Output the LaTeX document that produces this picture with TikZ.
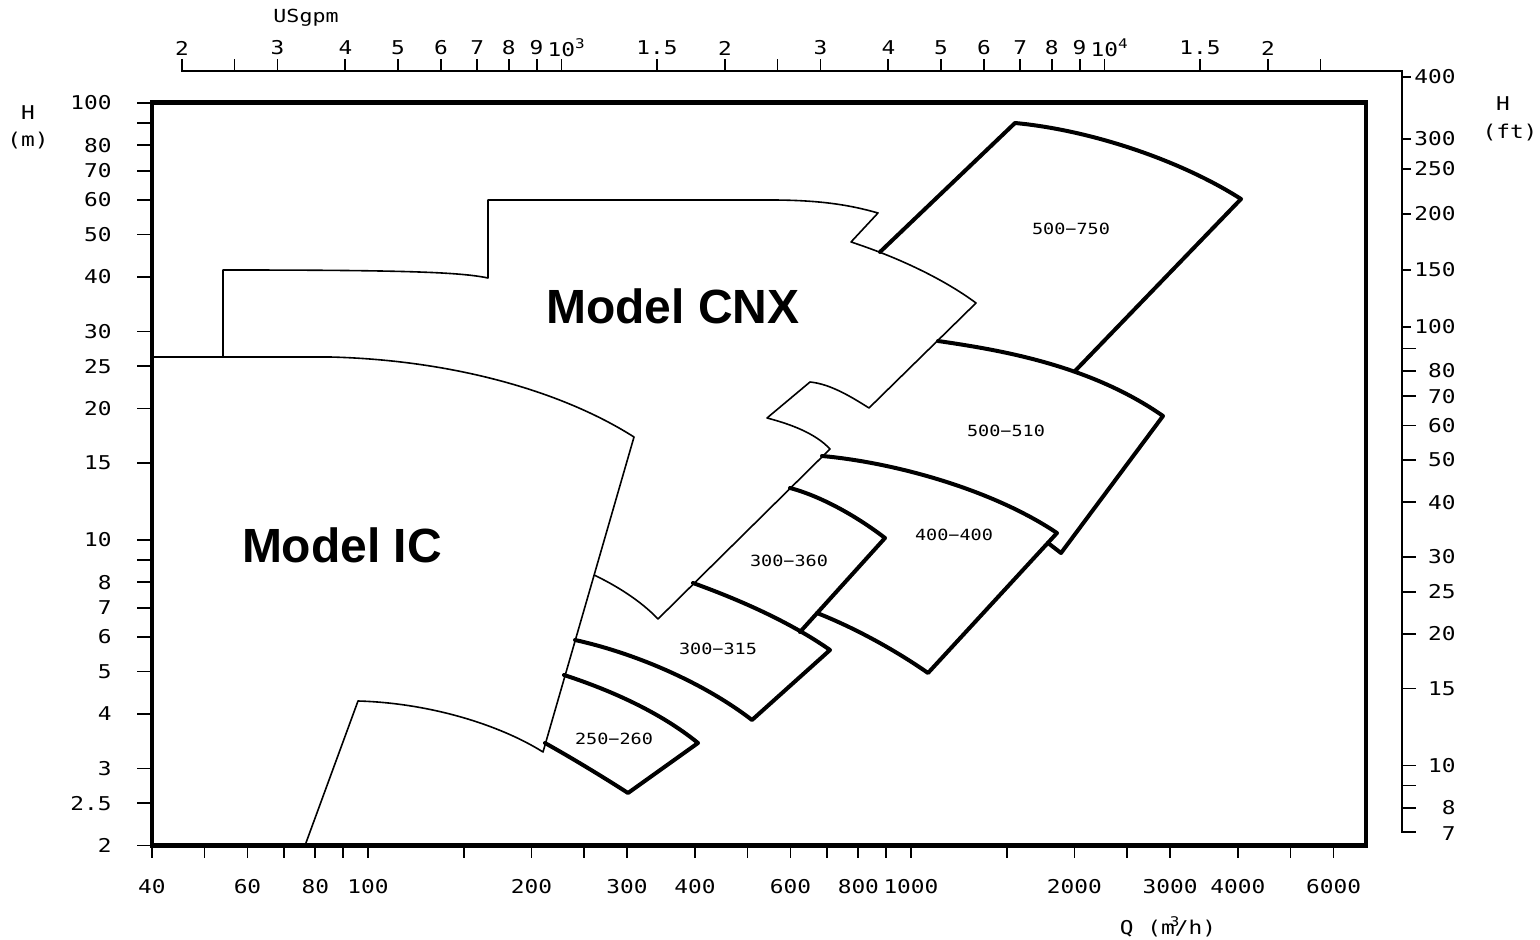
\documentclass[tikz,border=0pt]{standalone}
\usepackage{fontspec}
\setmainfont{DejaVu Sans Mono}[FakeStretch=1.2]
\newfontfamily\modelfont{Liberation Sans}

\begin{document}
\begin{tikzpicture}[x=0.5pt,y=-0.5pt,
    outline/.style={line width=0.8pt, line join=round},
    pump/.style={line width=2pt, line join=round, line cap=round},
    plotframe/.style={line width=2.2pt},
    axisline/.style={line width=0.9pt},
    ticklbl/.style={font=\fontsize{9.5}{11}\selectfont, inner sep=0pt},
    pumplbl/.style={font=\fontsize{7.7}{9}\selectfont, inner sep=0pt},
    modellbl/.style={font=\modelfont\bfseries\fontsize{24}{28}\selectfont, inner sep=0pt}]
  \useasboundingbox (0,0) rectangle (1540,940);

  % frame
  \draw[plotframe] (152,102.5) rectangle (1366,845.5);

  % Q axis (m3/h)
  \foreach \q in {40,50,60,70,80,90,100,150,200,250,300,400,500,600,700,800,900,1000,1500,2000,2500,3000,4000,5000,6000}{
    \pgfmathsetmacro{\xq}{368+543*(log10(\q)-2)}
    \draw[axisline] (\xq,845.5) -- (\xq,858);
  }
  \foreach \q [count=\i] in {40,60,80,100,200,300,400,600,800,1000,2000,3000,4000,6000}{
    \pgfmathsetmacro{\xq}{368+543*(log10(\q)-2)}
    \node[ticklbl] (qlab\i) at (\xq,887) {\q};
  }
  \node[ticklbl] (qunit) at (1168,927) {Q (m\llap{\textsuperscript{3}\kern-0.3em}/h)};

  % H axis (m)
  \foreach \h in {100,90,80,70,60,50,40,30,25,20,15,10,9,8,7,6,5,4,3,2.5,2}{
    \pgfmathsetmacro{\yh}{103+437*(2-log10(\h))}
    \draw[axisline] (137,\yh) -- (152,\yh);
  }
  \foreach \h [count=\i] in {100,80,70,60,50,40,30,25,20,15,10,8,7,6,5,4,3,2.5,2}{
    \pgfmathsetmacro{\yh}{103+437*(2-log10(\h))}
    \node[ticklbl, anchor=east] (hlab\i) at (112,\yh) {\h};
  }
  \node[ticklbl] (hm) at (28,113) {H};
  \node[ticklbl] (hmunit) at (28,141) {(m)};

  % USgpm axis and H axis (ft)
  \draw[axisline] (182,59) -- (182,71) -- (1402,71) -- (1402,832) -- (1416,832);
  \foreach \g in {2.5,3,4,5,6,7,8,9,10,15,20,25,30,40,50,60,70,80,90,100,150,200,250}{
    \pgfmathsetmacro{\xg}{368+543*(log10(\g)-0.64374)}
    \draw[axisline] (\xg,71) -- (\xg,59);
  }
  \foreach \g/\lab [count=\i] in {2/2,3/3,4/4,5/5,6/6,7/7,8/8,9/9,10/{10\rlap{\textsuperscript{3}}},
      15/1.5,20/2,30/3,40/4,50/5,60/6,70/7,80/8,90/9,100/{10\rlap{\textsuperscript{4}}},150/1.5,200/2}{
    \pgfmathsetmacro{\xg}{368+543*(log10(\g)-0.64374)}
    \node[ticklbl] (glab\i) at (\xg,48) {\lab};
  }
  \node[ticklbl, font=\fontsize{9}{11}\selectfont] (gpmunit) at (306,18) {USgpm};

  \foreach \y/\lab [count=\i] in {77/400,139/300,169/250,214/200,270/150,327/100}{
    \draw[axisline] (1402,\y) -- (1411,\y);
    \node[ticklbl, anchor=east] (ftlab\i) at (1456,\y) {\lab};
  }
  \foreach \f in {90,80,70,60,50,40,30,25,20,15,10,9,8}{
    \pgfmathsetmacro{\yf}{103+437*(2-log10(\f*0.3048))}
    \draw[axisline] (1402,\yf) -- (1416,\yf);
  }
  \foreach \f [count=\i] in {80,70,60,50,40,30,25,20,15,10,8,7}{
    \pgfmathsetmacro{\yf}{103+437*(2-log10(\f*0.3048))}
    \node[ticklbl, anchor=east] (ftlow\i) at (1456,\yf) {\f};
  }
  \node[ticklbl] (hft) at (1503,104) {H};
  \node[ticklbl] (hftunit) at (1510,133) {(ft)};

  % Model IC
  \draw[outline] (152,357) -- (330,357) .. controls (450,360) and (560,390) .. (634,437)
    -- (543,752) .. controls (500,725) and (430,703) .. (358,701) -- (305,845.5);
  % Model CNX
  \draw[outline] (223,357) -- (223,270) .. controls (400,270) and (460,272) .. (488,278)
    -- (488,200) -- (770,200) .. controls (820,200) and (850,205) .. (878,213)
    -- (851,242) .. controls (900,258) and (945,280) .. (976,303)
    -- (869,408) .. controls (850,396) and (830,384) .. (810,382)
    -- (767,418) .. controls (790,424) and (815,433) .. (830,449)
    -- (658,619) .. controls (640,600) and (615,585) .. (594,575);

  % pump sizes
  \draw[pump] (880,252) -- (1015,123) .. controls (1090,130) and (1180,160) .. (1241,199) -- (1075,371);
  \draw[pump] (938,341) .. controls (1000,350) and (1090,365) .. (1163,416) -- (1061,553) -- (1048,543);
  \draw[pump] (822,456) .. controls (890,462) and (990,488) .. (1057,533) -- (928,673)
    .. controls (895,650) and (855,628) .. (817,613);
  \draw[pump] (790,488) .. controls (820,496) and (855,515) .. (885,538) -- (800,632);
  \draw[pump] (693,583) .. controls (740,600) and (790,622) .. (830,650) -- (752,720)
    .. controls (700,680) and (630,652) .. (575,640);
  \draw[pump] (564,675) .. controls (610,690) and (660,712) .. (698,743) -- (628,793)
    .. controls (600,775) and (570,757) .. (545,743);

  \node[pumplbl] (p500a) at (1071,229) {500−750};
  \node[pumplbl] (p500b) at (1006,431) {500−510};
  \node[pumplbl] (p400) at (954,535) {400−400};
  \node[pumplbl] (p300a) at (789,561) {300−360};
  \node[pumplbl] (p300b) at (718,649) {300−315};
  \node[pumplbl] (p250) at (614,739) {250−260};

  \node[modellbl] (cnx) at (673,306) {Model CNX};
  \node[modellbl] (ic) at (342,545) {Model IC};
\end{tikzpicture}
\end{document}
